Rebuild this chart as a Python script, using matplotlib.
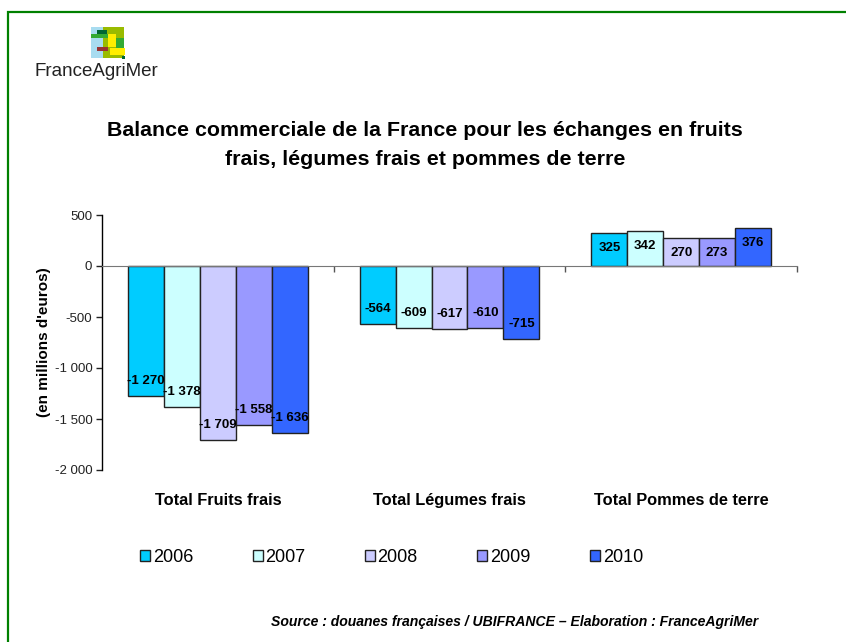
import numpy as np
import matplotlib.pyplot as plt
from matplotlib.patches import Rectangle, Patch
from matplotlib.ticker import FuncFormatter

categories = ["Total Fruits frais", "Total Légumes frais", "Total Pommes de terre"]
years = ["2006", "2007", "2008", "2009", "2010"]
values = {
    "2006": [-1270, -564, 325],
    "2007": [-1378, -609, 342],
    "2008": [-1709, -617, 270],
    "2009": [-1558, -610, 273],
    "2010": [-1636, -715, 376],
}
colors = ["#00CCFF", "#CCFFFF", "#CCCCFF", "#9999FF", "#3366FF"]

plt.rcParams['font.family'] = ['Liberation Sans', 'DejaVu Sans']

W, H = 846, 642
fig = plt.figure(figsize=(W / 100, H / 100), dpi=100)

# green frame
fig.patches.append(Rectangle((8 / W, -0.1), 1.2, 1.1 - 12 / H, transform=fig.transFigure,
                             fill=False, edgecolor="#008000", linewidth=1.6))

# logo
lax = fig.add_axes([0, 0, 1, 1], zorder=-1)
lax.set_xlim(0, W)
lax.set_ylim(H, 0)
lax.axis("off")
blocks = [
    (91, 27, 16, 31, "#A8DCF0"),
    (103, 27, 21, 31, "#99BB00"),
    (97, 30, 10, 4, "#006633"),
    (91, 34, 19, 4, "#33AA33"),
    (108, 34, 8, 13, "#FFEE00"),
    (116, 38, 8, 10, "#33AA33"),
    (97, 47, 11, 4, "#993333"),
    (110, 48, 15, 7, "#FFEE00"),
    (122, 56, 3, 3, "#006633"),
]
for x0, y0, w, h, c in blocks:
    lax.add_patch(Rectangle((x0, y0), w, h, facecolor=c, edgecolor="none"))
fig.text(35 / W, 1 - 72 / H, "FranceAgriMer", fontsize=13.5, color="#222222",
         family=['Liberation Sans Narrow', 'Liberation Sans'], va="center", ha="left")

# title
fig.text(425 / W, 1 - 145 / H,
         "Balance commerciale de la France pour les échanges en fruits\nfrais, légumes frais et pommes de terre",
         fontsize=15.4, fontweight="bold", ha="center", va="center", linespacing=1.62)

ax = fig.add_axes([102 / W, 1 - 470 / H, (797 - 102) / W, (470 - 215) / H])
x = np.arange(len(categories))
bw = 0.155
for i, (yr, c) in enumerate(zip(years, colors)):
    v = np.array(values[yr])
    pos = x + (i - 2) * bw
    ax.bar(pos, v, bw, color=c, edgecolor="#222222", linewidth=1.0, zorder=2)
    for px, pv in zip(pos, v):
        lbl = f"{pv:,}".replace(",", " ")
        off = -15 if pv > 0 else 15
        ax.annotate(lbl, (px, pv), xytext=(0, off), textcoords="offset pixels",
                    ha="center", va="center", fontsize=9.5, fontweight="bold", zorder=3)

ax.set_xlim(-0.5, 2.5)
ax.set_ylim(-2000, 500)
ax.set_yticks(np.arange(-2000, 501, 500))
ax.yaxis.set_major_formatter(FuncFormatter(lambda v, p: f"{int(v):,}".replace(",", " ")))
ax.tick_params(axis="y", labelsize=9.5, length=4, width=1, colors="#222222", pad=3)
ax.spines["top"].set_visible(False)
ax.spines["right"].set_visible(False)
ax.spines["bottom"].set_position(("data", 0))
ax.spines["bottom"].set_color("#777777")
ax.spines["left"].set_linewidth(1.0)
ax.set_xticks([])
ax.set_xticks([0.5, 1.5, 2.5], minor=True)
ax.tick_params(axis="x", which="minor", length=4, width=1, color="#555555", direction="out")
ax.tick_params(axis="x", which="major", length=0)
for xi, cat in zip(x, categories):
    ax.text(xi, -0.12, cat, transform=ax.get_xaxis_transform(), ha="center", va="center",
            fontsize=11.8, fontweight="bold")
ax.set_ylabel("(en millions d'euros)", fontsize=11, fontweight="bold")
ax.yaxis.set_label_coords(-0.073, 0.5)

handles = [Patch(facecolor=c, edgecolor="#222222", linewidth=1.0) for c in colors]
fig.legend(handles, years, loc="center left", bbox_to_anchor=(140 / W, 1 - 557 / H), ncol=5,
           frameon=False, fontsize=13, handlelength=0.55, handleheight=0.55,
           handletextpad=0.15, columnspacing=3.3, borderpad=0, borderaxespad=0)

fig.text(515 / W, 1 - 622 / H,
         "Source : douanes françaises / UBIFRANCE \u2013 Elaboration : FranceAgriMer",
         fontsize=10.1, fontweight="bold", style="italic", ha="center", va="center")

fig.savefig("out.png", dpi=100)
